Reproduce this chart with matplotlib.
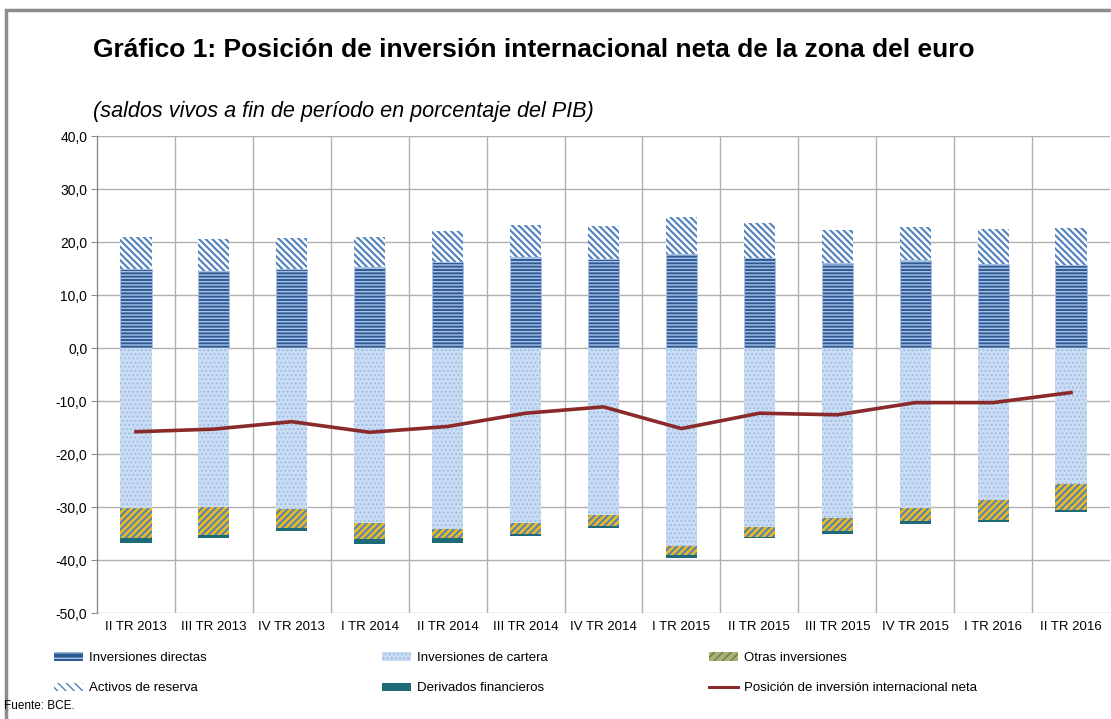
import matplotlib
matplotlib.use("Agg")
import matplotlib.pyplot as plt
import numpy as np
from matplotlib.patches import Patch, Rectangle
from matplotlib.lines import Line2D

plt.rcParams["font.family"] = ["Liberation Sans", "DejaVu Sans"]

quarters = [
    "II TR 2013", "III TR 2013", "IV TR 2013", "I TR 2014", "II TR 2014",
    "III TR 2014", "IV TR 2014", "I TR 2015", "II TR 2015", "III TR 2015",
    "IV TR 2015", "I TR 2016", "II TR 2016",
]
directas = [15.0, 14.6, 15.0, 15.3, 16.3, 17.2, 16.8, 17.7, 17.0, 16.0, 16.7, 15.9, 15.7]
reserva = [6.0, 5.9, 5.7, 5.7, 5.8, 6.0, 6.2, 7.0, 6.5, 6.3, 6.2, 6.5, 6.9]
cartera = [-30.1, -30.0, -30.4, -33.1, -34.2, -33.1, -31.5, -37.4, -33.8, -32.1, -30.1, -28.6, -25.7]
otras = [-5.8, -5.3, -3.6, -2.9, -1.7, -1.9, -2.1, -1.7, -1.8, -2.4, -2.5, -3.9, -4.9]
derivados = [-0.8, -0.6, -0.5, -0.9, -0.8, -0.5, -0.4, -0.6, -0.3, -0.5, -0.6, -0.3, -0.4]
posicion = [-15.8, -15.3, -13.9, -15.9, -14.8, -12.3, -11.1, -15.2, -12.3, -12.6, -10.3, -10.3, -8.4]
yticks = [40, 30, 20, 10, 0, -10, -20, -30, -40, -50]

x = np.arange(len(quarters))
width = 0.4

fig = plt.figure(figsize=(11.11, 7.19), dpi=100)
ax = fig.add_axes([0.0873, 0.1474, 0.9118, 0.6634])

# outer frame
fig.patches.append(Rectangle((0.005, -0.05), 1.2, 0.05 + 1 - 10 / 719,
                             transform=fig.transFigure, fill=False,
                             edgecolor="#8c8c8c", linewidth=2.5))

bottom_neg = np.array(cartera)
with plt.rc_context({"hatch.linewidth": 1.0}):
    ax.bar(x, directas, width, color="#2f5a94", hatch="-----",
           edgecolor="#a8c2e6", linewidth=0.6, zorder=3)
with plt.rc_context({"hatch.linewidth": 1.5}):
    ax.bar(x, reserva, width, bottom=directas, color="white", hatch="\\" * 5,
           edgecolor="#4f80bf", linewidth=0, zorder=3)
with plt.rc_context({"hatch.linewidth": 0.8}):
    ax.bar(x, cartera, width, color="#c9dcf3", hatch="....",
           edgecolor="#9bbbe4", linewidth=0, zorder=3)
with plt.rc_context({"hatch.linewidth": 2.0}):
    ax.bar(x, otras, width, bottom=bottom_neg, color="#4f81bd", hatch="/" * 5,
           edgecolor="#e8b923", linewidth=0, zorder=3)
ax.bar(x, derivados, width, bottom=bottom_neg + np.array(otras),
       color="#1d6b78", linewidth=0, zorder=3)
ax.plot(x, posicion, color="#8b2a2a", linewidth=2.6, zorder=4)

ax.set_xlim(-0.5, len(quarters) - 0.5)
ax.set_ylim(-50, 40)
ax.set_yticks(yticks)
ax.set_yticklabels([f"{v:.1f}".replace(".", ",") for v in yticks], fontsize=10)
ax.set_xticks(x)
ax.set_xticklabels(quarters, fontsize=9.5)
ax.set_xticks(np.arange(0.5, len(quarters) - 0.5), minor=True)
ax.tick_params(axis="x", which="both", length=0, pad=6)
ax.tick_params(axis="y", length=4, color="#8c8c8c", pad=3)
ax.grid(axis="y", color="#b0b0b0", linewidth=1.0, zorder=0)
ax.grid(axis="x", which="minor", color="#b0b0b0", linewidth=1.0, zorder=0)
for side in ["top", "right", "bottom"]:
    ax.spines[side].set_visible(False)
ax.spines["left"].set_color("#8c8c8c")
ax.spines["left"].set_linewidth(1.0)

fig.text(0.084, 0.931, "Gráfico 1: Posición de inversión internacional neta de la zona del euro",
         fontsize=19, fontweight="bold", va="center", ha="left")
fig.text(0.084, 0.845, "(saldos vivos a fin de período en porcentaje del PIB)",
         fontsize=15.6, style="italic", va="center", ha="left")
fig.text(0.004, 0.018, "Fuente: BCE.", fontsize=8.5, va="center", ha="left")

legend_columns = [
    (54, [
        Patch(facecolor="#2f5a94", edgecolor="#a8c2e6", hatch="---", linewidth=0,
              label="Inversiones directas"),
        Patch(facecolor="white", edgecolor="#4f80bf", hatch="\\" * 4, linewidth=0,
              label="Activos de reserva"),
    ]),
    (382, [
        Patch(facecolor="#c9dcf3", edgecolor="#9bbbe4", hatch="....", linewidth=0,
              label="Inversiones de cartera"),
        Patch(facecolor="#1d6b78", linewidth=0, label="Derivados financieros"),
    ]),
    (709, [
        Patch(facecolor="#a9b07a", edgecolor="#6e7a3e", hatch="/" * 4, linewidth=0,
              label="Otras inversiones"),
        Line2D([0], [0], color="#8b2a2a", linewidth=2.2,
               label="Posición de inversión internacional neta"),
    ]),
]
for x_px, handles in legend_columns:
    fig.legend(handles=handles, loc="upper left",
               bbox_to_anchor=(x_px / 1111, 1 - 652 / 719), frameon=False,
               fontsize=9.5, handlelength=2.2, handleheight=0.6,
               handletextpad=0.45, labelspacing=1.4, borderpad=0,
               borderaxespad=0)

fig.savefig("out.png", dpi=100)
